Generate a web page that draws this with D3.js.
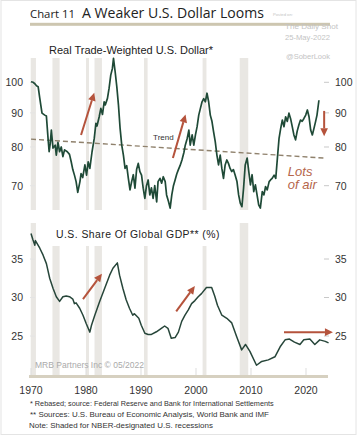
<!DOCTYPE html>
<html><head><meta charset="utf-8">
<script src="https://cdn.jsdelivr.net/npm/d3@7"></script>
<style>
html,body{margin:0;padding:0;background:#fff;}
svg{display:block;font-family:"Liberation Sans",Arial,sans-serif;}
</style></head>
<body><svg id="c" width="358" height="435"></svg>
<script>
// ---------- data ----------
const dollarYears = [1970.0,1970.4,1970.7,1971.0,1971.3,1971.6,1972.0,1972.5,1972.8,1973.1,1973.3,1973.5,1973.7,1974.0,1974.4,1974.6,1974.9,1975.2,1975.5,1975.8,1976.1,1976.6,1977.0,1977.3,1977.6,1977.9,1978.2,1978.5,1978.9,1979.1,1979.4,1979.8,1980.1,1980.4,1980.7,1981.1,1981.5,1981.8,1982.0,1982.4,1982.7,1983.0,1983.3,1983.5,1983.9,1984.2,1984.5,1984.8,1985.0,1985.3,1985.6,1985.9,1986.2,1986.5,1986.8,1987.1,1987.4,1987.7,1988.0,1988.3,1988.6,1988.9,1989.2,1989.5,1989.8,1990.1,1990.4,1990.7,1991.0,1991.3,1991.6,1991.9,1992.2,1992.5,1992.85,1993.1,1993.45,1993.75,1994.05,1994.4,1994.65,1995.0,1995.3,1995.6,1995.9,1996.2,1996.5,1996.8,1997.1,1997.45,1997.8,1998.05,1998.4,1998.7,1998.95,1999.3,1999.6,1999.9,2000.2,2000.5,2000.8,2001.1,2001.4,2001.7,2002.0,2002.3,2002.6,2002.9,2003.2,2003.5,2003.8,2004.1,2004.4,2004.7,2005.0,2005.3,2005.6,2005.9,2006.2,2006.5,2006.8,2007.1,2007.45,2007.75,2008.05,2008.35,2008.65,2008.95,2009.3,2009.6,2009.9,2010.2,2010.5,2010.8,2011.1,2011.4,2011.7,2012.05,2012.35,2012.65,2012.95,2013.3,2013.55,2013.85,2014.2,2014.5,2014.8,2015.1,2015.4,2015.7,2016.0,2016.3,2016.6,2016.9,2017.2,2017.5,2017.8,2018.1,2018.4,2018.7,2019.0,2019.3,2019.6,2019.95,2020.25,2020.55,2020.85,2021.15,2021.45,2021.75,2022.0,2022.35];
const dollarValues = [100.2,100,99.5,98.8,98.5,94.6,89.9,89.3,89.0,82.4,78.7,81,84.8,79.7,80.5,77.8,81.3,78.7,80,77.4,79.2,78.7,78,76.1,74,72.6,71,68.4,71,73,72,75.2,72.6,76,74.3,78.7,82.4,86.8,86,88.8,91.4,89.5,93.5,92.5,94.6,98,102.5,104.9,108.6,103.7,98.5,92.5,85.3,80.5,77.8,74.3,75,71.8,69,71,72.7,69.4,74,75.6,73.5,72.6,69.4,67,70,71.4,67.8,69.5,67,70,66.2,71,71.8,70.6,72.2,71,67.8,66.3,64.8,67.8,70,71.4,72.9,74,75,76.5,78.5,80.5,82.4,84.8,80.5,83.4,80.5,83.4,85.8,89.3,91.4,93.5,94.5,93.5,96.3,93.5,89.3,87.4,84.3,81.5,77.8,75.2,77.8,74.3,71.8,75.2,76.5,75.6,74.3,73.5,74,72.7,71,67.8,65.9,65.1,69.4,75.2,77,73.5,70.2,72.7,68.6,70.2,67.8,65.5,64.8,68.6,67.8,69.8,69,71,71.4,71.8,72.6,71.8,77,82.4,85.3,87.8,85.8,88.8,87.4,89.9,88.2,85.8,83.4,82,84.5,86.3,87.8,87.4,88.2,89.3,90.9,88.8,84.8,83.4,85.3,87.4,89.3,94];

const gdpYears = [1970.0,1970.35,1970.7,1970.8,1971.6,1972.2,1972.8,1973.4,1974.0,1974.6,1975.2,1975.8,1976.4,1977.0,1977.6,1977.9,1978.2,1978.85,1979.45,1980.05,1980.4,1980.7,1981.0,1981.6,1982.5,1983.4,1984.3,1984.9,1985.7,1986.1,1986.7,1987.3,1987.9,1988.5,1988.8,1989.6,1990.05,1990.7,1991.3,1991.9,1992.8,1993.7,1994.3,1994.9,1995.5,1996.2,1996.8,1997.4,1998.0,1998.6,1999.2,1999.8,2000.4,2001.0,2001.9,2002.85,2003.4,2003.9,2004.7,2005.6,2006.5,2007.4,2008.3,2009.0,2009.8,2011.0,2011.95,2013.15,2014.35,2015.3,2016.2,2017.0,2017.9,2018.9,2019.6,2020.7,2021.6,2022.5,2023.5,2024.1];
const gdpValues = [38.3,37.5,36.8,37.4,36.4,35.5,34.4,32.5,31.2,30.1,29.5,30.1,30.2,30.1,29.8,29.2,29.3,28.6,27.7,26.6,26.0,25.5,26.4,27.7,29.5,31.2,32.9,33.8,34.5,32.9,31.2,29.7,28.6,27.7,27.9,27.3,26.4,25.35,25.2,25.2,25.55,26.0,26.3,26.0,24.7,24.8,25.5,26.9,27.7,28.4,29.2,29.6,30.1,30.5,31.3,31.3,30.2,29.0,27.7,27.3,26.7,24.9,23.2,23.9,23.0,21.2,21.7,21.9,22.3,23.6,24.5,24.6,24.2,23.9,24.5,24.6,23.9,24.5,24.3,24.1];

const recessionStarts = [1969.95,1973.9,1980.0,1981.55,1990.55,2001.2,2007.95];
const recessionEnds   = [1970.9,1975.2,1980.55,1982.9,1991.2,2001.9,2009.5];
const recessionTallBottom = [true,false,false,false,false,false,true];

const trendYears = [1970, 2023.3];
const trendValues = [82.2, 77.0];

const xTickYears = [1970,1980,1990,2000,2010,2020];
const topTicks = [70,80,90,100];
const bottomTicks = [25,30,35];

// arrows: [x1,y1,x2,y2] in data units
const topArrows = [[1979.1,83.4,1981.5,96.5],[1995.8,77.0,1998.1,89.5],[2023.3,90.6,2023.3,83.0]];
const bottomArrows = [[1979.45,29.8,1982.9,33.1],[1996.4,28.2,1999.8,31.5],[2016.0,25.5,2024.9,25.5]];

// ---------- scales ----------
const svg = d3.select("#c");
const x = d3.scaleLinear().domain([1970,2020]).range([31,306]);
const yTop = d3.scaleLog().domain([70,100]).range([185.7,82.3]);
const yBot = d3.scaleLinear().domain([25,35]).range([336,259]);

const ARROW = "#b5533c";
const LINE = "#1f4a37";

// fit a text element to a target width by adjusting font size
function fit(t, w){
  const n = t.node(); const fs = +t.attr("font-size");
  const cur = n.getComputedTextLength();
  if (cur > 0) t.attr("font-size", (fs*w/cur).toFixed(2));
  return t;
}

// frame
svg.append("rect").attr("x",1).attr("y",0.5).attr("width",355).attr("height",434)
  .attr("fill","none").attr("stroke","#e4e4e4").attr("stroke-width",1);

// title
fit(svg.append("text").attr("x",30).attr("y",17.5).attr("font-size",11.5).attr("fill","#222")
  .attr("font-family","'Open Sans',sans-serif").text("Chart 11"), 45);
fit(svg.append("text").attr("x",82).attr("y",17.5).attr("font-size",15.5).attr("fill","#222")
  .attr("font-family","'Open Sans',sans-serif").attr("font-weight",500).text("A Weaker U.S. Dollar Looms"), 182);
svg.append("rect").attr("x",30).attr("y",22.8).attr("width",300).attr("height",3).attr("fill","#cdc6b0");

// watermark
const wm = svg.append("g").attr("fill","#c4c4c4");
fit(wm.append("text").attr("x",273).attr("y",16).attr("font-size",5.5).text("Posted on:"), 20);
fit(wm.append("text").attr("x",285).attr("y",28.5).attr("font-size",8).text("The Daily Shot"), 53);
fit(wm.append("text").attr("x",285).attr("y",39.5).attr("font-size",6.5).text("25-May-2022"), 45);
fit(wm.append("text").attr("x",286).attr("y",59).attr("font-size",8).text("@SoberLook"), 44);

// recession bands
const topBandTop = 58, topBandBot = 210;
recessionStarts.forEach((s,i)=>{
  svg.append("rect").attr("x",x(s)).attr("width",x(recessionEnds[i])-x(s))
    .attr("y",topBandTop).attr("height",topBandBot-topBandTop).attr("fill","#e9e7e3");
  const bt = recessionTallBottom[i] ? 223 : 246;
  svg.append("rect").attr("x",x(s)).attr("width",x(recessionEnds[i])-x(s))
    .attr("y",bt).attr("height",376-bt).attr("fill","#e9e7e3");
});

// subtitles
fit(svg.append("text").attr("x",49).attr("y",53.5).attr("font-size",11.2).attr("fill","#222").text("Real Trade-Weighted U.S. Dollar*"), 164);
fit(svg.append("text").attr("x",56).attr("y",237.5).attr("font-size",11.2).attr("fill","#222").attr("letter-spacing",0.45).text("U.S. Share Of Global GDP** (%)"), 163);

// y axes labels
const lab = svg.append("g").attr("font-size",10.5).attr("fill","#333");
topTicks.forEach(v=>{
  lab.append("text").attr("x",23).attr("y",yTop(v)+3.8).attr("text-anchor","end").text(v);
  lab.append("text").attr("x",335).attr("y",yTop(v)+3.8).text(v);
  svg.append("line").attr("x1",324).attr("x2",329).attr("y1",yTop(v)).attr("y2",yTop(v)).attr("stroke","#c8c8c8");
  svg.append("line").attr("x1",30).attr("x2",35).attr("y1",yTop(v)).attr("y2",yTop(v)).attr("stroke","#e4e4e4");
});
bottomTicks.forEach(v=>{
  lab.append("text").attr("x",23).attr("y",yBot(v)+3.8).attr("text-anchor","end").text(v);
  lab.append("text").attr("x",335).attr("y",yBot(v)+3.8).text(v);
  svg.append("line").attr("x1",324).attr("x2",329).attr("y1",yBot(v)).attr("y2",yBot(v)).attr("stroke","#c8c8c8");
  svg.append("line").attr("x1",30).attr("x2",35).attr("y1",yBot(v)).attr("y2",yBot(v)).attr("stroke","#e4e4e4");
});

// trend line
const trendLine = d3.line().x((d,i)=>x(trendYears[i])).y((d,i)=>yTop(trendValues[i]));
svg.append("path").attr("d",trendLine(trendYears)).attr("fill","none")
  .attr("stroke","#8f816c").attr("stroke-width",1.4).attr("stroke-dasharray","5,3");
svg.append("text").attr("x",x(1992.2)).attr("y",140).attr("font-size",8).attr("fill","#333").text("Trend");

// dollar line
const dLine = d3.line().x((d,i)=>x(dollarYears[i])).y((d,i)=>yTop(dollarValues[i]));
svg.append("path").attr("d",dLine(dollarYears)).attr("fill","none").attr("stroke",LINE)
  .attr("stroke-width",1.7).attr("stroke-linejoin","round");

// gdp line
const gLine = d3.line().x((d,i)=>x(gdpYears[i])).y((d,i)=>yBot(gdpValues[i]));
svg.append("path").attr("d",gLine(gdpYears)).attr("fill","none").attr("stroke","#27463a")
  .attr("stroke-width",1.5).attr("stroke-linejoin","round");

// arrows
function arrow(p, ys){
  const x1=x(p[0]), y1=ys(p[1]), x2=x(p[2]), y2=ys(p[3]);
  const a=Math.atan2(y2-y1,x2-x1), L=8, W=3.8;
  const bx=x2-L*Math.cos(a), by=y2-L*Math.sin(a);
  svg.append("line").attr("x1",x1).attr("y1",y1).attr("x2",bx).attr("y2",by)
    .attr("stroke",ARROW).attr("stroke-width",2);
  svg.append("path").attr("fill",ARROW).attr("d",
    `M${x2},${y2}L${bx+W*Math.sin(a)},${by-W*Math.cos(a)}L${bx-W*Math.sin(a)},${by+W*Math.cos(a)}Z`);
}
topArrows.forEach(p=>arrow(p,yTop));
bottomArrows.forEach(p=>arrow(p,yBot));

// lots of air
const la = svg.append("g").attr("fill","#b5654a").attr("font-size",13).attr("font-style","italic");
la.append("text").attr("x",x(2016.7)).attr("y",175.5).text("Lots");
la.append("text").attr("x",x(2016.7)).attr("y",189).text("of air");

// MRB note
fit(svg.append("text").attr("x",35).attr("y",367.5).attr("font-size",8.6).attr("fill","#aaa").text("MRB Partners Inc \u00A9 05/2022"), 109);

// x axis
svg.append("line").attr("x1",29).attr("x2",328).attr("y1",376.5).attr("y2",376.5)
  .attr("stroke","#d6d0c0").attr("stroke-width",3);
xTickYears.forEach(v=>{
  svg.append("line").attr("x1",x(v)).attr("x2",x(v)).attr("y1",368).attr("y2",375)
    .attr("stroke","#ddd").attr("stroke-width",1);
  svg.append("text").attr("x",x(v)).attr("y",393.5).attr("text-anchor","middle")
    .attr("font-size",10.5).attr("fill","#333").text(v);
});

// footnotes
const fn = svg.append("g").attr("fill","#333");
fit(fn.append("text").attr("x",30).attr("y",406).attr("font-size",7).text("* Rebased; source: Federal Reserve and Bank for International Settlements"), 244);
fit(fn.append("text").attr("x",30).attr("y",417).attr("font-size",7).text("** Sources: U.S. Bureau of Economic Analysis, World Bank and IMF"), 239);
fit(fn.append("text").attr("x",29).attr("y",428).attr("font-size",7).text("Note: Shaded for NBER-designated U.S. recessions"), 184);
</script></body></html>
